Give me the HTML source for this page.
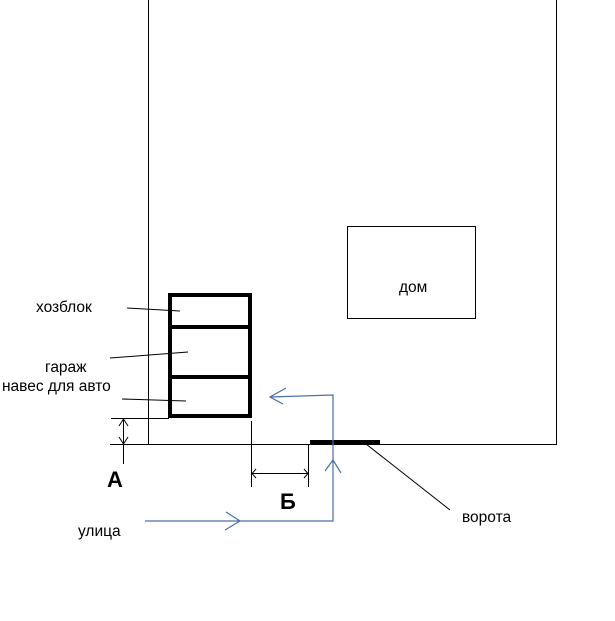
<!DOCTYPE html>
<html><head><meta charset="utf-8"><style>
html,body{margin:0;padding:0;background:#fff;}
svg{display:block;}
text{font-family:"Liberation Sans",Arial,sans-serif;fill:#000;}
</style></head><body>
<svg width="615" height="621" viewBox="0 0 615 621" xmlns="http://www.w3.org/2000/svg">
<g stroke="#000" fill="none" stroke-width="1">
<line x1="148.5" y1="0" x2="148.5" y2="444"/>
<line x1="556.5" y1="0" x2="556.5" y2="444"/>
<line x1="110" y1="444.5" x2="557" y2="444.5"/>
<rect x="347.5" y="226.5" width="128" height="92"/>
<line x1="111" y1="418.5" x2="169" y2="418.5"/>
<line x1="123.5" y1="418" x2="123.5" y2="464"/>
<polyline points="119,426 123.5,419 128,426"/>
<polyline points="119,437 123.5,444 128,437"/>
<line x1="251.5" y1="421" x2="251.5" y2="487"/>
<line x1="308.5" y1="444" x2="308.5" y2="487"/>
<line x1="252" y1="473.5" x2="308" y2="473.5"/>
<polyline points="256,469 252,473.5 256,478"/>
<polyline points="304,469 308,473.5 304,478"/>
<line x1="127" y1="308" x2="180" y2="311"/>
<line x1="110" y1="358" x2="188" y2="352"/>
<line x1="122" y1="399" x2="186" y2="401"/>
<line x1="366" y1="444" x2="450" y2="510"/>
</g>
<rect x="310" y="440" width="70" height="4" fill="#000"/>
<g stroke="#000" stroke-width="4" fill="none">
<rect x="170" y="295" width="80" height="121"/>
<line x1="170" y1="327" x2="250" y2="327"/>
<line x1="170" y1="377" x2="250" y2="377"/>
</g>
<g stroke="#4a6fa5" stroke-width="1.2" fill="none">
<polyline points="145,521 333,521 333,395 270,397"/>
<polyline points="286,388 270,397 283,404"/>
<polyline points="226,512 240,521 225,530"/>
<polyline points="325,471 333,460 341,473"/>
</g>
<g font-size="15.5">
<text x="36" y="312">хозблок</text>
<text x="45" y="372">гараж</text>
<text x="2" y="391">навес для авто</text>
<text x="399" y="292">дом</text>
<text x="78" y="536">улица</text>
<text x="462" y="522">ворота</text>
</g>
<text x="107" y="487" font-size="22" font-weight="bold">А</text>
<text x="280" y="509" font-size="22" font-weight="bold">Б</text>
</svg>
</body></html>
